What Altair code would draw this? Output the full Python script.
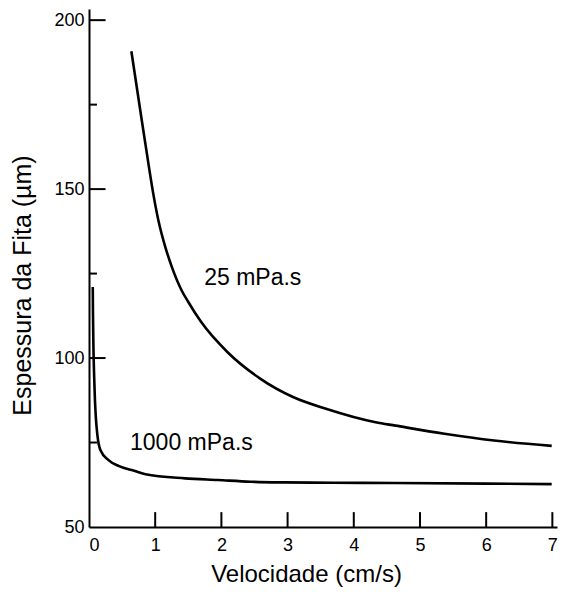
import altair as alt
import pandas as pd

# 25 mPa.s curve (velocity cm/s, thickness um)
v25 = [0.64, 0.80, 0.91, 0.952, 1.052, 1.152, 1.251, 1.40, 1.50, 1.69, 2.09, 2.58, 3.09, 3.58, 4.33, 4.63, 5.37, 6.12, 6.99]
h25 = [190.8, 170.0, 156.0, 150.8, 140.4, 132.9, 127.0, 120.0, 116.6, 110.8, 101.8, 94.0, 88.4, 85.0, 81.0, 80.0, 77.6, 75.6, 74.0]

# 1000 mPa.s curve
v1000 = [0.057, 0.060, 0.067, 0.078, 0.090, 0.105, 0.125, 0.172, 0.295, 0.455, 0.694, 0.854, 1.45, 1.95, 2.44, 2.94, 3.69, 4.63, 6.99]
h1000 = [121.0, 113.3, 103.2, 94.5, 87.5, 82.0, 77.5, 72.8, 69.8, 68.0, 66.6, 65.6, 64.4, 63.9, 63.4, 63.2, 63.1, 63.0, 62.7]

labels = ["25 mPa.s", "1000 mPa.s"]
label_x = [1.74, 0.62]
label_y = [123.7, 74.8]

x_ticks = [1, 2, 3, 4, 5, 6, 7]
y_major = [100, 150, 200]
y_minor = [75, 125, 175]

curves = pd.concat([
    pd.DataFrame({"v": v25, "h": h25, "s": "25 mPa.s"}),
    pd.DataFrame({"v": v1000, "h": h1000, "s": "1000 mPa.s"}),
])

xs = alt.Scale(domain=[0, 7.07], nice=False, zero=False)
ys = alt.Scale(domain=[50, 203.3], nice=False, zero=False)

xaxis = alt.Axis(values=[0] + x_ticks, format="d", ticks=False, tickSize=0, grid=False, domainColor="black",
                 domainWidth=2, labelFont="Liberation Sans", labelFontSize=18, labelColor="black",
                 labelPadding=9, title="Velocidade (cm/s)", titleFont="Liberation Sans",
                 titleFontSize=24, titleFontWeight="normal", titleColor="black",
                 titleX=217, titleY=47, titleBaseline="middle", titleAlign="center")
yaxis = alt.Axis(values=[50] + y_major, format="d", ticks=False, tickSize=0, grid=False, domainColor="black",
                 domainWidth=2, labelFont="Liberation Sans", labelFontSize=18, labelColor="black",
                 labelPadding=5, title="Espessura da Fita (µm)", titleFont="Liberation Sans",
                 titleFontSize=25, titleFontWeight="normal", titleColor="black",
                 titleX=-67, titleY=276, titleAngle=-90, titleBaseline="middle", titleAlign="center")

lines = alt.Chart(curves).mark_line(color="black", strokeWidth=2.6, interpolate="monotone").encode(
    x=alt.X("v:Q", scale=xs, axis=xaxis),
    y=alt.Y("h:Q", scale=ys, axis=yaxis),
    detail="s:N",
)

text = alt.Chart(pd.DataFrame({"t": labels, "x": label_x, "y": label_y})).mark_text(
    align="left", baseline="middle", font="Liberation Sans", fontSize=23, color="black"
).encode(x=alt.X("x:Q", scale=xs), y=alt.Y("y:Q", scale=ys), text="t:N")

xt = alt.Chart(pd.DataFrame({"x": x_ticks, "y0": 50, "y1": 54.4})).mark_rule(color="black", strokeWidth=2).encode(
    x=alt.X("x:Q", scale=xs), y=alt.Y("y0:Q", scale=ys), y2="y1:Q")

yt = alt.Chart(pd.DataFrame({"y": y_major + y_minor, "x0": 0, "x1": [0.25] * 3 + [0.12] * 3})).mark_rule(
    color="black", strokeWidth=2).encode(
    y=alt.Y("y:Q", scale=ys), x=alt.X("x0:Q", scale=xs), x2="x1:Q")

chart = alt.layer(xt, yt, lines, text).properties(
    width=468, height=518,
    autosize=alt.AutoSizeParams(type="none"),
    padding={"left": 81, "top": 1, "right": 1, "bottom": 61},
).configure_view(stroke=None)

chart.save("out.html", embed_options={"renderer": "svg", "actions": False})
